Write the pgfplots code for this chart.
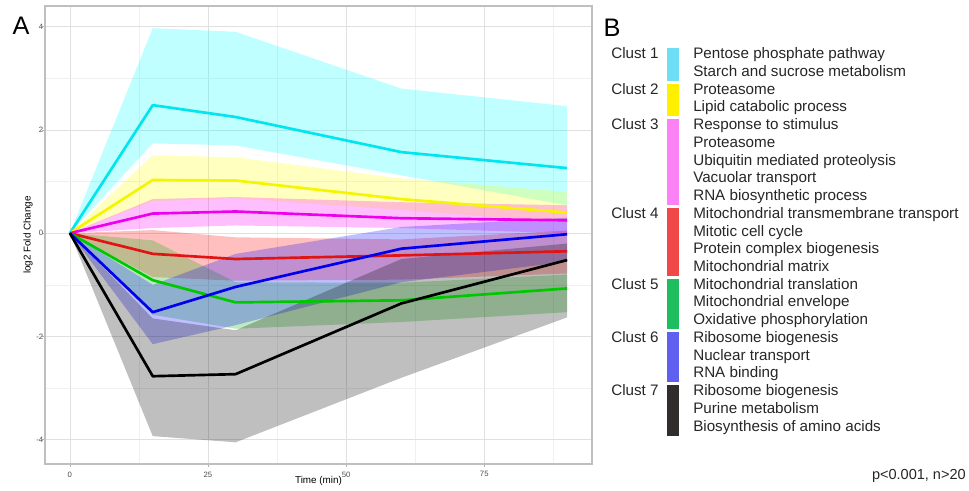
\documentclass[border=0pt]{standalone}
\usepackage{pgfplots}
\pgfplotsset{compat=1.18}
\usepackage{pgfplotstable}
\usepgfplotslibrary{fillbetween}
\usepackage{fontspec}
\setmainfont{Liberation Sans}

% mean (m), lower (l) and upper (u) band of each cluster
\pgfplotstableread{
t  m1   l1   u1   m2   l2   u2   m3   l3   u3   m4    l4    u4    m5    l5    u5    m6    l6    u6    m7    l7    u7
0  0    0    0    0    0    0    0    0    0    0     0     0     0     0     0     0     0     0     0     0     0
15 2.48 1.74 3.97 1.03 0.62 1.51 0.38 0.10 0.66 -0.40 -0.85 0.06  -0.91 -1.58 -0.14 -1.53 -2.15 -1.00 -2.77 -3.93 -1.65
30 2.25 1.70 3.90 1.02 0.68 1.47 0.42 0.15 0.70 -0.50 -0.92 -0.08 -1.34 -1.85 -0.95 -1.04 -1.78 -0.40 -2.73 -4.05 -1.88
60 1.57 1.12 2.80 0.66 0.45 1.06 0.29 0.10 0.60 -0.43 -0.90 -0.12 -1.30 -1.72 -0.96 -0.30 -0.95 0.12  -1.36 -2.80 -0.50
90 1.26 0.54 2.46 0.40 0.20 0.80 0.25 0.00 0.54 -0.35 -0.78 0.05  -1.07 -1.53 -0.80 -0.02 -0.55 0.30  -0.52 -1.63 -0.20
}\clusters

% line colours
\definecolor{c1}{RGB}{0,229,238}
\definecolor{c2}{RGB}{245,245,0}
\definecolor{c3}{RGB}{238,0,238}
\definecolor{c4}{RGB}{225,20,20}
\definecolor{c5}{RGB}{0,200,0}
\definecolor{c6}{RGB}{0,0,238}
\definecolor{c7}{RGB}{0,0,0}
% band colours
\definecolor{f1}{RGB}{0,255,255}
\definecolor{f2}{RGB}{255,255,0}
\definecolor{f3}{RGB}{255,0,255}
\definecolor{f4}{RGB}{255,0,0}
\definecolor{f5}{RGB}{0,170,0}
\definecolor{f6}{RGB}{0,0,255}
\definecolor{f7}{RGB}{0,0,0}
% key bars in panel B
\definecolor{b1}{RGB}{110,222,245}
\definecolor{b2}{RGB}{255,240,0}
\definecolor{b3}{RGB}{250,130,245}
\definecolor{b4}{RGB}{240,72,72}
\definecolor{b5}{RGB}{30,190,95}
\definecolor{b6}{RGB}{95,95,240}
\definecolor{b7}{RGB}{50,45,45}

\newcommand\leg{\fontsize{11.4}{13}\selectfont}

\begin{document}
\begin{tikzpicture}
\path (0,0) rectangle (726.75pt,367.5pt);

\begin{axis}[
  at={(33.75pt,19.5pt)}, anchor=south west,
  scale only axis, width=410.25pt, height=343.5pt,
  xmin=-4.5, xmax=94.5, ymin=-4.47, ymax=4.4,
  xtick={0,25,50,75}, ytick={-4,-2,0,2,4},
  minor xtick={12.5,37.5,62.5,87.5}, minor ytick={-3,-1,1,3},
  grid=both,
  major grid style={black!12, line width=0.5pt},
  minor grid style={black!6, line width=0.4pt},
  axis line style={black!25, line width=0.9pt},
  tick pos=left, tick align=outside,
  major tick length=2.2pt, minor tick length=0pt,
  tick style={black!30, line width=0.5pt},
  /pgf/number format/assume math mode=true,
  ticklabel style={font=\fontsize{5.8}{6.5}\selectfont, text=black!70},
  yticklabel style={inner sep=1pt, xshift=2pt},
  xlabel={Time (min)}, ylabel={log2 Fold Change},
  label style={font=\fontsize{7.4}{8}\selectfont},
  xlabel style={at={(axis description cs:0.5,-0.037)}, anchor=center},
  ylabel style={at={(axis description cs:-0.031,0.5)}, anchor=center},
]
\pgfplotsinvokeforeach{1,...,7}{
  \addplot[draw=none, forget plot, name path=u#1] table[x=t, y=u#1]{\clusters};
  \addplot[draw=none, forget plot, name path=l#1] table[x=t, y=l#1]{\clusters};
  \addplot[fill=f#1, fill opacity=0.25, draw=none] fill between[of=u#1 and l#1];
}
\pgfplotsinvokeforeach{1,...,7}{
  \addplot[c#1, line width=2pt, line join=round] table[x=t, y=m#1]{\clusters};
}
\end{axis}

\begin{scope}[x=0.75pt, y=0.75pt]
% panel letters
\node[font=\fontsize{19}{19}\selectfont] at (21,464) {A};
\node[font=\fontsize{19}{19}\selectfont] at (612,462) {B};

% panel B: clusters and their enriched terms
\foreach \txt [count=\i from 0] in {
  Pentose phosphate pathway, Starch and sucrose metabolism,
  Proteasome, Lipid catabolic process,
  Response to stimulus, Proteasome, Ubiquitin mediated proteolysis, Vacuolar transport, RNA biosynthetic process,
  Mitochondrial transmembrane transport, Mitotic cell cycle, Protein complex biogenesis, Mitochondrial matrix,
  Mitochondrial translation, Mitochondrial envelope, Oxidative phosphorylation,
  Ribosome biogenesis, Nuclear transport, RNA binding,
  Ribosome biogenesis, Purine metabolism, Biosynthesis of amino acids}
  \node[anchor=base west, inner sep=0pt, font=\leg, text=black!85]
    at (693, {490-(53.3+\i*17.73+5.4)}) {\txt};

\foreach \k/\a/\b in {1/0/1, 2/2/3, 3/4/8, 4/9/12, 5/13/15, 6/16/18, 7/19/21} {
  \node[anchor=base west, inner sep=0pt, font=\leg, text=black!85]
    at (611, {490-(53.3+\a*17.73+5.4)}) {Clust \k};
  \fill[b\k] (667, {490-(53.3+\a*17.73-5)}) rectangle (679, {490-(53.3+\b*17.73+10)});
}

\node[anchor=base east, inner sep=0pt, font=\fontsize{10.9}{12}\selectfont, text=black!85]
  at (966, 490-479.5) {p<0.001, n>20};
\end{scope}
\end{tikzpicture}
\end{document}
